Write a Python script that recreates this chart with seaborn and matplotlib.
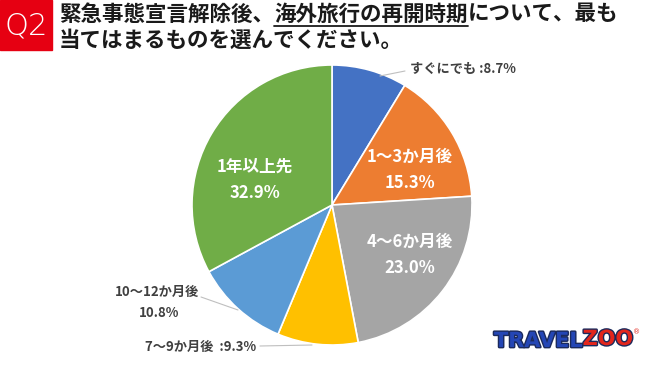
import matplotlib
matplotlib.use("Agg")
import matplotlib.pyplot as plt
import matplotlib.patheffects as pe
import seaborn as sns

categories = ["すぐにでも", "1～3か月後", "4～6か月後", "7～9か月後", "10～12か月後", "1年以上先"]
shares = [8.7, 15.3, 23.0, 9.3, 10.8, 32.9]
colors = ["#4472C4", "#ED7D31", "#A5A5A5", "#FFC000", "#5B9BD5", "#70AD47"]

sns.set_theme(style="white")
plt.rcParams["font.family"] = ["Noto Sans CJK JP", "DejaVu Sans"]

W, H = 650, 365
fig = plt.figure(figsize=(W / 100, H / 100), dpi=100)

# pie axes: centre (332, 205), radius 140 px
cx, cy, r = 332, 205, 140
ax = fig.add_axes([(cx - r) / W, (H - cy - r) / H, 2 * r / W, 2 * r / H])
ax.pie(shares, colors=colors, startangle=90, counterclock=False,
       wedgeprops=dict(edgecolor="white", linewidth=1.2), radius=1)
ax.set_xlim(-1, 1)
ax.set_ylim(-1, 1)
ax.axis("off")

def px(x, y):
    # pixel position -> pie data coords
    return ((x - cx) / r, (cy - y) / r)

# labels inside the slices
inside = {1: (410, 170), 2: (410, 255), 5: (255, 180)}
for i, (x, y) in inside.items():
    ax.text(*px(x, y), f"{categories[i]}\n{shares[i]:.1f}%", color="white",
            fontsize=12, fontweight="bold", ha="center", va="center", linespacing=1.6)

lab = dict(color="#404040", fontsize=9.5, fontweight="bold", clip_on=False)
line = dict(color="#BFBFBF", lw=0.8, clip_on=False)

ax.plot(*zip(px(380, 76), px(405, 71)), **line)
ax.text(*px(410, 69), f"{categories[0]} :{shares[0]}%", ha="left", va="center", **lab)

ax.plot(*zip(px(238, 310), px(201, 297)), **line)
ax.text(*px(157, 292), categories[4], ha="center", va="center", **lab)
ax.text(*px(159, 313), f"{shares[4]}%", ha="center", va="center", **lab)

ax.plot(*zip(px(312, 345), px(260, 346)), **line)
ax.text(*px(145, 347), f"{categories[3]}  :{shares[3]}%", ha="left", va="center", **lab)

# header
fig.patches.append(plt.Rectangle((0, (H - 50) / H), 52 / W, 50 / H,
                                 transform=fig.transFigure, color="#E60012"))
fig.text(26 / W, 1 - 26 / H, "Q2", color="white", fontsize=22, ha="center", va="center",
         family="DejaVu Sans", fontweight="light")

tkw = dict(fontsize=15.5, fontweight="bold", color="#1A1A1A", va="center")
y1 = 1 - 14 / H
renderer = fig.canvas.get_renderer()
x = 59 / W
for seg, under in [("緊急事態宣言解除後、", False), ("海外旅行の再開時期", True), ("について、最も", False)]:
    t = fig.text(x, y1, seg, **tkw)
    bb = t.get_window_extent(renderer).transformed(fig.transFigure.inverted())
    if under:
        fig.add_artist(plt.Line2D([bb.x0, bb.x1], [bb.y0 - 1 / H, bb.y0 - 1 / H],
                                  transform=fig.transFigure, color="#1A1A1A", lw=1.3))
    x = bb.x1
fig.text(59 / W, 1 - 40 / H, "当てはまるものを選んでください。", **tkw)

# logo
stroke = [pe.withStroke(linewidth=2, foreground="#1B2A5C")]
logo = dict(fontsize=15, fontweight="heavy", family="DejaVu Sans", va="center", path_effects=stroke)
t1 = fig.text(494 / W, 1 - 341 / H, "TRAVEL", color="#2446B5", **logo)
bb = t1.get_window_extent(renderer).transformed(fig.transFigure.inverted())
t2 = fig.text(bb.x1, 1 - 339 / H, "ZOO", color="#E3261C", **logo)
bb2 = t2.get_window_extent(renderer).transformed(fig.transFigure.inverted())
fig.text(bb2.x1, bb2.y1, "®", fontsize=5, color="#E3261C", va="top", family="DejaVu Sans")

fig.savefig("out.png", dpi=100)
